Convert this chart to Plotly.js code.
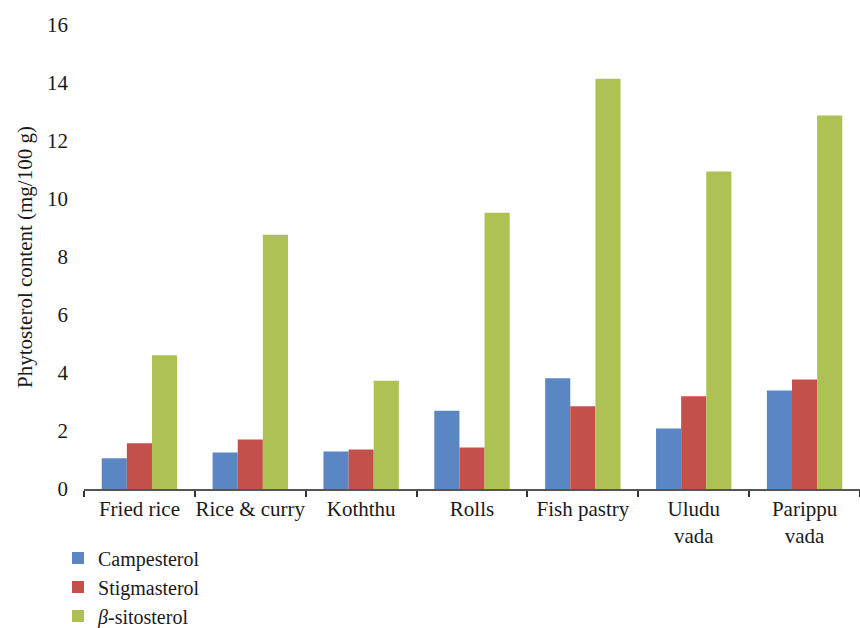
<!DOCTYPE html>
<html>
<head>
<meta charset="utf-8">
<script src="https://cdn.plot.ly/plotly-3.0.1.min.js"></script>
<style>
  html, body { margin: 0; padding: 0; background: #ffffff; }
  #chart { width: 860px; height: 628px; }
</style>
</head>
<body>
<div id="chart"></div>
<script>
// Street-food samples
const categories = ["Fried rice", "Rice & curry", "Koththu", "Rolls", "Fish pastry", "Uludu<br>vada", "Parippu<br>vada"];

// Phytosterol content, mg/100 g
const campesterol = [1.06, 1.26, 1.29, 2.70, 3.82, 2.09, 3.40];
const stigmasterol = [1.58, 1.71, 1.36, 1.43, 2.85, 3.20, 3.78];
const sitosterol = [4.61, 8.77, 3.73, 9.53, 14.15, 10.95, 12.88];

const seriesNames = ["Campesterol", "Stigmasterol", "<i>β</i>-sitosterol"];
const seriesColors = ["#5a87c3", "#c4504c", "#adc155"];
const seriesValues = [campesterol, stigmasterol, sitosterol];

const font = "Liberation Serif, Times New Roman, serif";
const ink = "#1a1a1a";
const fs = 21;

const traces = seriesValues.map((vals, i) => ({
  type: "bar",
  name: seriesNames[i],
  x: categories,
  y: vals,
  marker: { color: seriesColors[i], line: { width: 0 } },
  hoverinfo: "x+y+name"
}));

const layout = {
  width: 860,
  height: 628,
  margin: { l: 84, r: 0, t: 25, b: 139, autoexpand: false },
  paper_bgcolor: "#ffffff",
  plot_bgcolor: "#ffffff",
  font: { family: font, size: fs, color: ink },
  barmode: "group",
  bargap: 0.32,
  bargroupgap: 0,
  showlegend: true,
  legend: {
    orientation: "v",
    x: -0.0335,
    xanchor: "left",
    y: -0.1065,
    yanchor: "top",
    itemwidth: 30,
    tracegroupgap: 0,
    font: { family: font, size: 20, color: ink },
    bgcolor: "rgba(0,0,0,0)",
    itemclick: false
  },
  xaxis: {
    type: "category",
    automargin: false,
    tickangle: 0,
    showline: true,
    linecolor: "#555555",
    linewidth: 1.5,
    ticks: "outside",
    tickson: "boundaries",
    ticklen: 6,
    tickcolor: "#333333",
    tickwidth: 1.5,
    showgrid: false,
    zeroline: false,
    tickfont: { family: font, size: fs, color: ink },
    fixedrange: true
  },
  yaxis: {
    range: [0, 16],
    dtick: 2,
    automargin: false,
    showline: false,
    showgrid: false,
    zeroline: false,
    ticks: "",
    ticklabelstandoff: 15,
    tickfont: { family: font, size: fs, color: ink },
    title: {
      text: "Phytosterol content (mg/100 g)",
      font: { family: font, size: fs, color: ink }
    },
    fixedrange: true
  }
};

Plotly.newPlot("chart", traces, layout, { displayModeBar: false });
</script>
</body>
</html>
